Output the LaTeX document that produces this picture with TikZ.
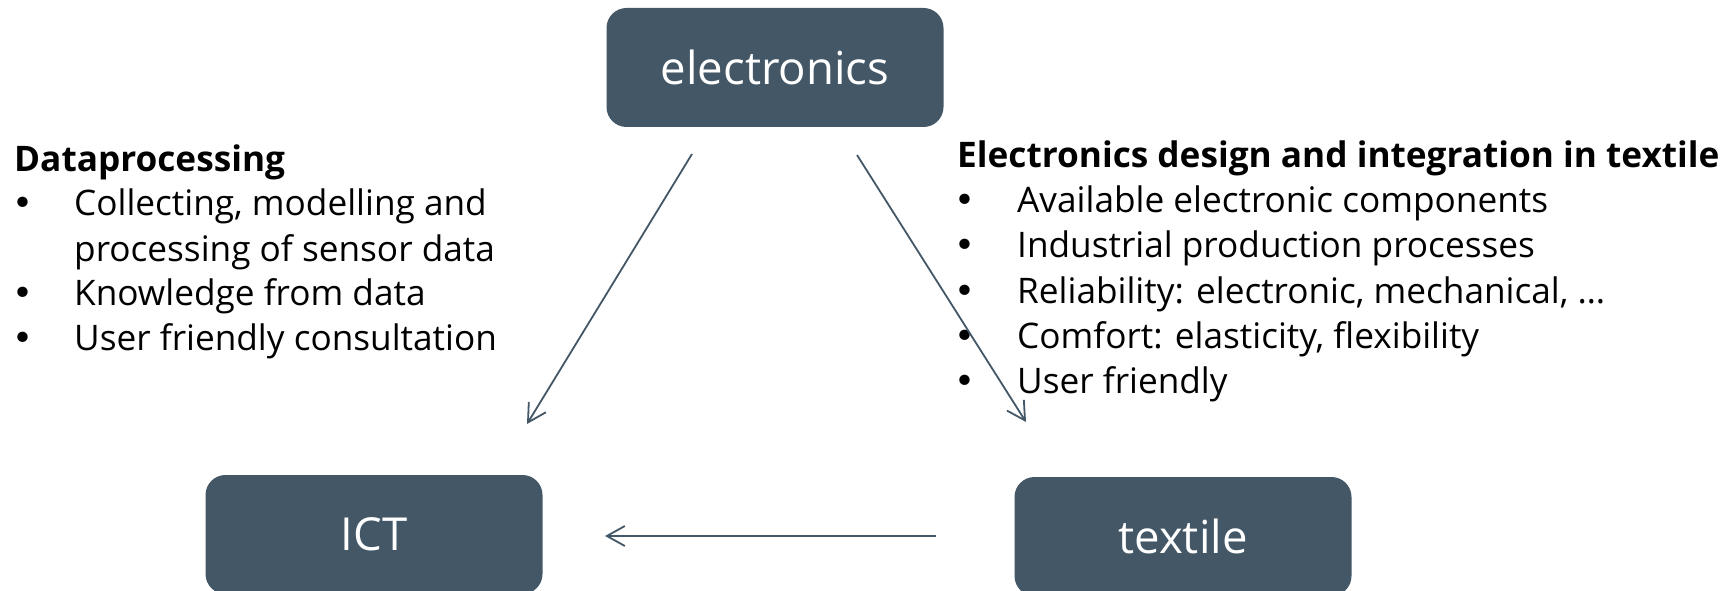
\documentclass[tikz,border=0pt]{standalone}
\usepackage{fontspec}
\setmainfont{Open Sans}
\newfontfamily\dejavu{DejaVu Sans}
\usetikzlibrary{arrows.meta}
\definecolor{slate}{RGB}{67,87,102}
\begin{document}
\begin{tikzpicture}[x=1bp,y=-1bp,
  box/.style={fill=slate, rounded corners=20bp, minimum width=337bp, minimum height=119bp, text=white, font=\fontsize{45.5bp}{50bp}\selectfont, inner sep=0},
  txt/.style={anchor=base west, inner sep=0, font=\fontsize{35.2bp}{45bp}\selectfont},
  bul/.style={anchor=base west, inner sep=0, font=\dejavu\fontsize{35.5bp}{45bp}\selectfont},
  ttl/.style={anchor=base west, inner sep=0, font=\fontsize{35.2bp}{45bp}\selectfont\bfseries},
  link/.style={draw=slate, line width=1.8bp, -{Straight Barb[length=18bp,width=20bp,line width=1.8bp]}}]
\useasboundingbox (0,0) rectangle (1735,591);
\clip (0,0) rectangle (1735,591);
\node[box] (elec) at (775,67.5) {electronics};
\node[box] (ict) at (374,534.5) {ICT};
\node[box] (tex) at (1183,536.5) {textile};
% left text
\node[ttl] (lt) at (14,172) {Dataprocessing};
\node[bul] (lb1) at (12,216) {•};
\node[txt] (l1) at (74,216) {Collecting, modelling and};
\node[txt] (l1b) at (74,261) {processing of sensor data};
\node[bul] (lb2) at (12,305) {•};
\node[txt] (l2) at (74,305) {Knowledge from data};
\node[bul] (lb3) at (12,350) {•};
\node[txt] (l3) at (74,350) {User friendly consultation};
% right text
\node[ttl] (rt) at (957,168) {Electronics design and integration in textile};
\node[bul] (rb1) at (954,213) {•};
\node[txt] (r1) at (1017,213) {Available electronic components};
\node[bul] (rb2) at (954,258) {•};
\node[txt] (r2) at (1017,258) {Industrial production processes};
\node[bul] (rb3) at (954,303) {•};
\node[txt] (r3) at (1017,303) {Reliability: electronic, mechanical, …};
\node[bul] (rb4) at (954,348) {•};
\node[txt] (r4) at (1017,348) {Comfort: elasticity, flexibility};
\node[bul] (rb5) at (954,393) {•};
\node[txt] (r5) at (1017,393) {User friendly};
% arrows
\coordinate (a1s) at (692,154);
\coordinate (a1e) at (527,424);
\coordinate (a2s) at (857,155);
\coordinate (a2e) at (1026,422);
\coordinate (a3s) at (936,536);
\coordinate (a3e) at (605,536);
\draw[link] (a1s) -- (a1e);
\draw[link] (a2s) -- (a2e);
\draw[link] (a3s) -- (a3e);
\end{tikzpicture}
\end{document}
